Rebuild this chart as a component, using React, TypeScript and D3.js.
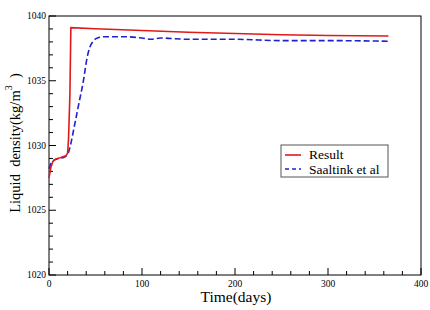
import React from 'react';
import * as d3 from 'd3';

// Result series (time in days, density kg/m3)
const resultTime = [0, 2, 4, 7, 12, 18, 20, 21, 22.5, 23.5, 50, 100, 150, 200, 250, 300, 365];
const resultValue = [1027.5, 1028.3, 1028.75, 1028.95, 1029.05, 1029.2, 1029.4, 1030.5, 1034, 1039.1, 1039.02, 1038.88, 1038.75, 1038.65, 1038.55, 1038.5, 1038.45];

// Saaltink et al series
const saalTime = [0, 2, 5, 10, 15, 20, 23, 27, 32, 37, 41, 44, 47, 52, 60, 80, 100, 110, 120, 150, 200, 250, 300, 365];
const saalValue = [1028.2, 1028.6, 1028.85, 1029.0, 1029.05, 1029.3, 1030.0, 1031.4, 1033.2, 1035.0, 1036.8, 1037.6, 1038.0, 1038.3, 1038.4, 1038.4, 1038.3, 1038.2, 1038.3, 1038.2, 1038.2, 1038.1, 1038.1, 1038.05];

const xTicks = [0, 100, 200, 300, 400];
const yTicks = [1020, 1025, 1030, 1035, 1040];
const legendLabels = ['Result', 'Saaltink et al'];

const W = 430;
const H = 310;
const margin = { top: 16, right: 9, bottom: 35, left: 49 };
const FONT = 'Liberation Serif';

const App = () => {
  const x = d3.scaleLinear().domain([0, 400]).range([margin.left, W - margin.right]);
  const y = d3.scaleLinear().domain([1020, 1040]).range([H - margin.bottom, margin.top]);

  const line = d3
    .line<[number, number]>()
    .x((d) => x(d[0]))
    .y((d) => y(d[1]));

  const result = resultTime.map((t, i) => [t, resultValue[i]] as [number, number]);
  const saal = saalTime.map((t, i) => [t, saalValue[i]] as [number, number]);
  const saalLine = d3
    .line<[number, number]>()
    .curve(d3.curveMonotoneX)
    .x((d) => x(d[0]))
    .y((d) => y(d[1]));

  const xMinor = d3.range(0, 401, 20);
  const yMinor = d3.range(1020, 1041, 1);

  const x0 = x(0);
  const x1 = x(400);
  const yb = y(1020);
  const yt = y(1040);

  return (
    <div style={{ position: 'absolute', left: 0, top: 0 }}>
      <svg width={W} height={H} style={{ display: 'block', background: '#fff' }}>
        {/* frame */}
        <rect x={x0} y={yt} width={x1 - x0} height={yb - yt} fill="none" stroke="#000" strokeWidth={1} />

        {/* x ticks */}
        {xMinor.map((v) => (
          <line key={'xm' + v} x1={x(v)} x2={x(v)} y1={yb} y2={yb - (v % 100 === 0 ? 7 : 4)} stroke="#000" />
        ))}
        {xTicks.map((v) => (
          <text key={'xl' + v} x={x(v)} y={yb + 11.5} textAnchor="middle" fontSize={9.5} fontFamily={FONT} fill="#000">
            {v}
          </text>
        ))}

        {/* y ticks */}
        {yMinor.map((v) => (
          <line key={'ym' + v} x1={x0} x2={x0 + (v % 5 === 0 ? 7 : 4)} y1={y(v)} y2={y(v)} stroke="#000" />
        ))}
        {yTicks.map((v) => (
          <text key={'yl' + v} x={x0 - 3} y={y(v) + 3} textAnchor="end" fontSize={9.5} fontFamily={FONT} fill="#000">
            {v}
          </text>
        ))}

        {/* axis titles */}
        <text x={236} y={302} textAnchor="middle" fontSize={15.5} fontFamily={FONT} fill="#000">
          Time(days)
        </text>
        <text
          transform={`translate(19.5, 143) rotate(-90)`}
          textAnchor="middle"
          fontSize={14.5}
          fontFamily={FONT}
          fill="#000"
          style={{ whiteSpace: 'pre' }}
        >
          {'Liquid  density(kg/m'}
          <tspan dy={-8} fontSize={10}>3</tspan>
          <tspan dy={8}>{'  )'}</tspan>
        </text>

        {/* series */}
        <path d={saalLine(saal) ?? ''} fill="none" stroke="#2020d0" strokeWidth={1.6} strokeDasharray="6,3" />
        <path d={line(result) ?? ''} fill="none" stroke="#e01a1a" strokeWidth={1.6} />

        {/* legend */}
        <rect x={281} y={145} width={107} height={32} fill="#fff" stroke="#555" strokeWidth={1} />
        <line x1={285} x2={301} y1={155} y2={155} stroke="#e01a1a" strokeWidth={1.6} />
        <line x1={285} x2={301} y1={169} y2={169} stroke="#2020d0" strokeWidth={1.6} strokeDasharray="4,3" />
        {legendLabels.map((l, i) => (
          <text key={l} x={309} y={159 + i * 14.5} fontSize={13.5} fontFamily={FONT} fill="#000">
            {l}
          </text>
        ))}
      </svg>
    </div>
  );
};

export default App;
